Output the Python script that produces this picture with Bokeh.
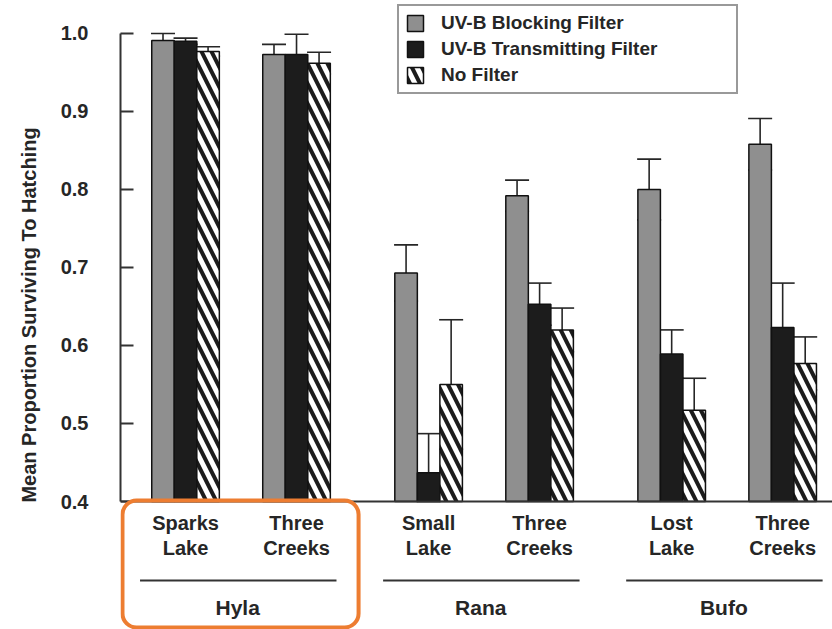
from bokeh.plotting import figure
from bokeh.models import (ColumnDataSource, FixedTicker, Span, Whisker, TeeHead,
                          Legend, LegendItem, BoxAnnotation, PrintfTickFormatter, Range1d)
from bokeh.embed import file_html
from bokeh.resources import INLINE
from bokeh.core.properties import value

# ---------------- data ----------------
species = ["Hyla", "Rana", "Bufo"]
sites = ["Sparks\nLake", "Three\nCreeks", "Small\nLake", "Three\nCreeks", "Lost\nLake", "Three\nCreeks"]
site_species = [0, 0, 1, 1, 2, 2]
series = ["UV-B Blocking Filter", "UV-B Transmitting Filter", "No Filter"]
blocking = [0.991, 0.973, 0.693, 0.792, 0.800, 0.858]
blocking_err = [0.009, 0.013, 0.036, 0.020, 0.039, 0.033]
transmitting = [0.990, 0.973, 0.437, 0.653, 0.589, 0.623]
transmitting_err = [0.004, 0.026, 0.050, 0.027, 0.031, 0.057]
nofilter = [0.977, 0.962, 0.550, 0.620, 0.517, 0.577]
nofilter_err = [0.006, 0.014, 0.083, 0.028, 0.041, 0.034]
y_ticks = [0.4, 0.5, 0.6, 0.7, 0.8, 0.9, 1.0]
y_label = "Mean Proportion Surviving To Hatching"

# ---------------- layout ----------------
GAP = 0.19
BW = 0.203
BASE = 0.4
X0, X1 = -0.586, 5.829
FONT = "Liberation Sans"
INK = "#262626"
AXIS_INK = "#333333"

pos = [i + site_species[i] * GAP for i in range(len(sites))]

p = figure(width=832, height=629, output_backend="svg", toolbar_location=None,
           x_range=Range1d(X0, X1), y_range=Range1d(0.2359, 1.0423),
           x_axis_location=None, min_border_left=120, min_border_right=0,
           min_border_top=0, min_border_bottom=0)
p.outline_line_color = None
p.xgrid.visible = False
p.ygrid.visible = False
p.background_fill_color = "white"
p.border_fill_color = "white"

styles = [
    dict(fill_color="#8f8f8f"),
    dict(fill_color="#1c1c1c"),
    dict(fill_color="white", hatch_pattern="left_diagonal_line", hatch_color="#1c1c1c",
         hatch_scale=20, hatch_weight=4),
]
vals = [blocking, transmitting, nofilter]
errs = [blocking_err, transmitting_err, nofilter_err]
offsets = [-BW, 0.0, BW]

items = []
for k in range(3):
    xs = [x + offsets[k] for x in pos]
    src = ColumnDataSource(dict(
        x=xs, top=vals[k],
        upper=[v + e for v, e in zip(vals[k], errs[k])],
        lower=[max(v - e, BASE) for v, e in zip(vals[k], errs[k])],
    ))
    r = p.vbar(x="x", top="top", bottom=BASE, width=BW, source=src,
               line_color="#111111", line_width=1.5, **styles[k])
    items.append(LegendItem(label=series[k], renderers=[r]))
    w = Whisker(base="x", upper="upper", lower="lower", source=src, dimension="height",
                line_color=INK, line_width=1.6,
                upper_head=TeeHead(size=24, line_color=INK, line_width=1.6),
                lower_head=TeeHead(size=24, line_color=INK, line_width=1.6))
    p.add_layout(w)

# baseline
p.add_layout(Span(location=BASE, dimension="width", line_color=AXIS_INK, line_width=2))

# y axis
ya = p.yaxis[0]
ya.bounds = (min(y_ticks), max(y_ticks))
ya.ticker = FixedTicker(ticks=y_ticks)
ya.formatter = PrintfTickFormatter(format="%.1f")
ya.minor_tick_line_color = None
ya.major_tick_in = 13
ya.major_tick_out = 0
ya.major_tick_line_width = 2
ya.major_tick_line_color = AXIS_INK
ya.axis_line_width = 2
ya.axis_line_color = AXIS_INK
ya.major_label_standoff = 32
ya.major_label_text_font = FONT
ya.major_label_text_font_style = "bold"
ya.major_label_text_font_size = "20px"
ya.major_label_text_color = INK
ya.axis_label = y_label
ya.axis_label_text_font = FONT
ya.axis_label_text_font_style = "bold"
ya.axis_label_text_font_size = "20px"
ya.axis_label_text_color = INK
ya.axis_label_standoff = 18

# site labels (two lines)
line1 = [s.split("\n")[0] for s in sites]
line2 = [s.split("\n")[1] for s in sites]
for txt, yv in ((line1, 0.373), (line2, 0.340)):
    p.text(x=pos, y=[yv] * len(pos), text=txt, text_align="center", text_baseline="middle",
           text_font=value(FONT), text_font_style="bold", text_font_size="20px", text_color=INK)

# species group lines and labels
g_x0, g_x1, g_mid = [], [], []
for s in range(len(species)):
    ps = [pos[i] for i in range(len(pos)) if site_species[i] == s]
    g_x0.append(min(ps) - 0.41)
    g_x1.append(max(ps) + 0.36)
    g_mid.append((min(ps) + max(ps)) / 2 - 0.03)
p.segment(x0=g_x0, x1=g_x1, y0=[0.2987] * 3, y1=[0.2987] * 3, line_color=AXIS_INK, line_width=2)
p.text(x=g_mid, y=[0.264] * 3, text=species, text_align="center", text_baseline="middle",
       text_font=value(FONT), text_font_style="bold", text_font_size="21px", text_color=INK)

# legend
legend = Legend(items=items, location=(277, 535), orientation="vertical",
                label_text_font=FONT, label_text_font_style="bold", label_text_font_size="19px",
                label_text_color=INK, glyph_width=20, glyph_height=20, label_height=20,
                label_standoff=16, label_width=289, spacing=4, padding=6, margin=0,
                border_line_color=AXIS_INK, border_line_width=2,
                background_fill_color="white", background_fill_alpha=1.0)
p.add_layout(legend, "center")

# highlight box
p.add_layout(BoxAnnotation(left=X0 + 0.018, right=1.559, top=0.4013, bottom=0.2385,
                           fill_color=None, fill_alpha=0, line_color="#ED7D31",
                           line_alpha=1.0, line_width=4, border_radius=14))

open("out.html", "w").write(file_html(p, INLINE))
